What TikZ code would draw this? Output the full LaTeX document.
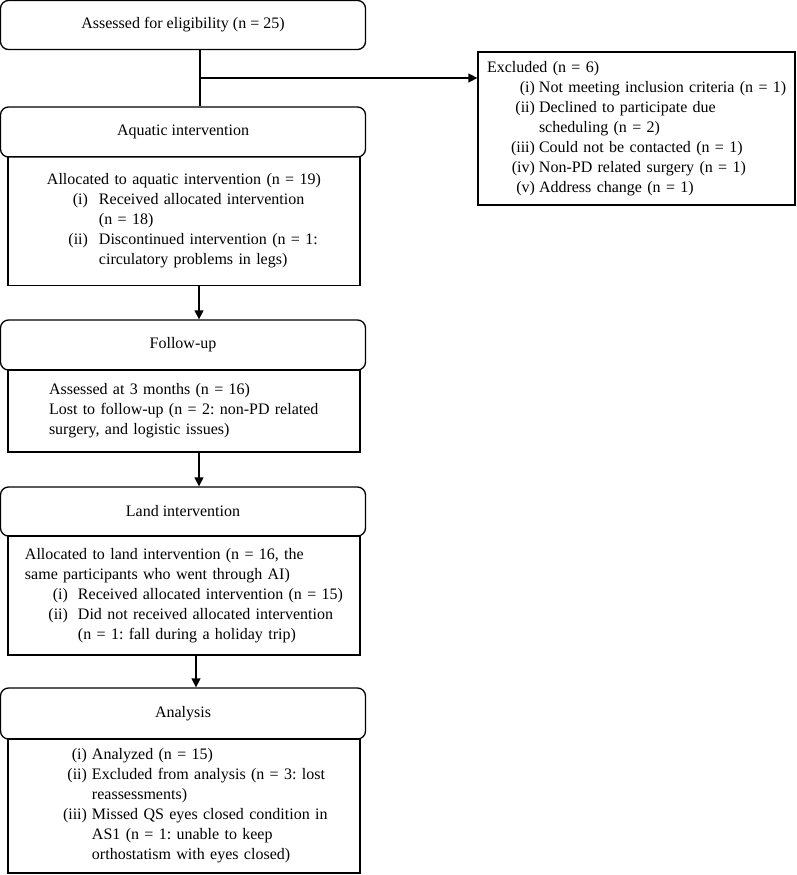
\documentclass[tikz,border=0pt]{standalone}
\usepackage{fontspec}
\setmainfont{Liberation Serif}
\usetikzlibrary{arrows.meta}
\frenchspacing

\newcommand{\itm}[3]{\makebox[#1][r]{#2}\hspace*{#3}}

\begin{document}
\begin{tikzpicture}[x=1pt, y=-1pt, line width=1.3pt, font=\fontsize{16}{20}\selectfont]
        \tikzstyle{titre}=[draw, rounded corners=8pt, minimum width=365pt, minimum height=49pt, inner sep=0];
        \tikzstyle{contenu}=[draw, text width=352pt, inner xsep=0, inner ysep=0, align=left];
        \tikzstyle{fleche}=[-{Triangle[length=9pt, width=9pt]}];

        \useasboundingbox (0,0) rectangle (796,875);

        \node[titre] (elig) at (183,25) {Assessed for eligibility (n = 25)};

        \node[contenu, text width=317pt, minimum height=153pt] (excl) at (636.5,128.5) {\leftskip=9pt
          Excluded (n = 6)\\
          \itm{48pt}{(i)}{4pt}Not meeting inclusion criteria (n = 1)\\
          \itm{48pt}{(ii)}{4pt}Declined to participate due\\
          \itm{48pt}{}{4pt}scheduling (n = 2)\\
          \itm{48pt}{(iii)}{4pt}Could not be contacted (n = 1)\\
          \itm{48pt}{(iv)}{4pt}Non-PD related surgery (n = 1)\\
          \itm{48pt}{(v)}{4pt}Address change (n = 1)\par};

        \node[titre, minimum height=50pt] (aqh) at (183,132) {Aquatic intervention};
        \node[contenu, minimum height=129pt] (aqc) at (184,221) {\leftskip=39pt
          Allocated to aquatic intervention (n = 19)\\
          \itm{41pt}{(i)}{11pt}Received allocated intervention\\
          \itm{41pt}{}{11pt}(n = 18)\\
          \itm{41pt}{(ii)}{11pt}Discontinued intervention (n = 1:\\
          \itm{41pt}{}{11pt}circulatory problems in legs)\par};

        \node[titre, minimum height=50pt] (fuh) at (183,345) {Follow-up};
        \node[contenu, minimum height=82pt] (fuc) at (184,411) {\leftskip=41pt
          Assessed at 3 months (n = 16)\\
          Lost to follow-up (n = 2: non-PD related\\
          surgery, and logistic issues)\par};

        \node[titre] (lah) at (183,511.5) {Land intervention};
        \node[contenu, minimum height=119pt] (lac) at (184,595.5) {\leftskip=17pt
          Allocated to land intervention (n = 16, the\\
          same participants who went through AI)\\
          \itm{43pt}{(i)}{10pt}Received allocated intervention (n = 15)\\
          \itm{43pt}{(ii)}{10pt}Did not received allocated intervention\\
          \itm{43pt}{}{10pt}(n = 1: fall during a holiday trip)\par};

        \node[titre, minimum height=51pt] (anh) at (183,713.5) {Analysis};
        \node[contenu, minimum height=134pt] (anc) at (184,806) {\leftskip=8pt
          \itm{71pt}{(i)}{5pt}Analyzed (n = 15)\\
          \itm{71pt}{(ii)}{5pt}Excluded from analysis (n = 3: lost\\
          \itm{71pt}{}{5pt}reassessments)\\
          \itm{71pt}{(iii)}{5pt}Missed QS eyes closed condition in\\
          \itm{71pt}{}{5pt}AS1 (n = 1: unable to keep\\
          \itm{71pt}{}{5pt}orthostatism with eyes closed)\par};

        % connecteurs
        \coordinate (embr) at (200,78);
        \draw ([xshift=17pt]elig.south) -- ([xshift=17pt]aqh.north);
        \draw[fleche] (embr) -- (embr -| excl.west);
        \draw[fleche] ([xshift=15pt]aqc.south) -- ([xshift=15pt]aqc.south |- fuh.north);
        \draw[fleche] ([xshift=15pt]fuc.south) -- ([xshift=15pt]fuc.south |- lah.north);
        \draw[fleche] ([xshift=12pt]lac.south) -- ([xshift=12pt]lac.south |- anh.north);
\end{tikzpicture}
\end{document}
